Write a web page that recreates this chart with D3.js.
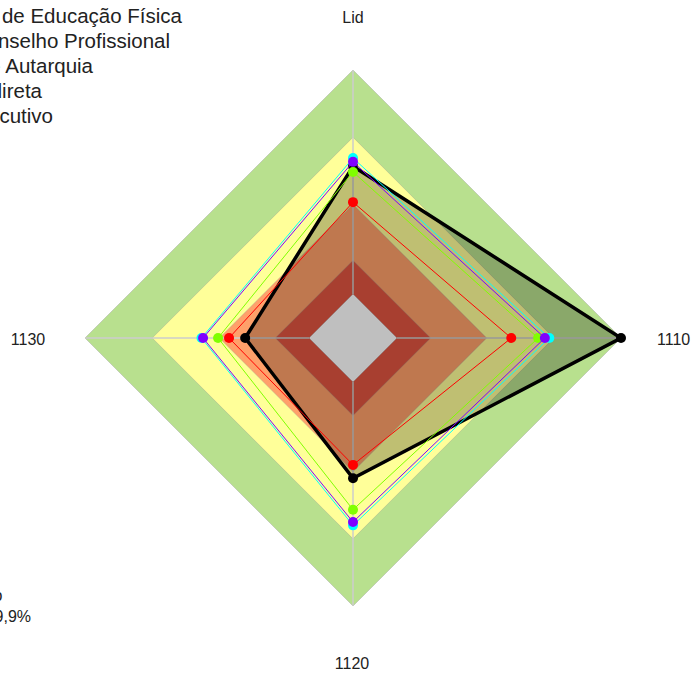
<!DOCTYPE html>
<html>
<head>
<meta charset="utf-8">
<script src="https://cdn.jsdelivr.net/npm/d3@7"></script>
<style>
  body { margin: 0; background: #fff; }
  text { font-family: "Liberation Sans", Arial, sans-serif; fill: #222; }
</style>
</head>
<body>
<script>
// axes of the radar, clockwise from the top
var axes = ["Lid", "1110", "1120", "1130"]

// band limits (percent) and colours, from the outside in
var bandLimits = [100, 70, 40, 15, 0]
var bandColors = ["#b8e08e", "#ffff99", "#ffa06a", "#e05540", "#ffffff"]

// series values (percent), per axis
var seriesNames = ["Conselho Regional de Educação Física", "Conselho Profissional", "Autarquia", "Administração Indireta", "Poder Executivo"]
var valBlack  = [57, 100, 43, 28.5]
var valRed    = [41, 51, 37, 35.7]
var valGreen  = [54.5, 63, 57, 40.6]
var valCyan   = [60.7, 68, 64, 48]
var valPurple = [59, 66, 62.5, 47.3]

// legend + note lines, they run off the left edge in the original
var legendLines = ["Conselho Regional de Educação Física", "Conselho Profissional", "Tipo - Autarquia", "Administração Indireta", "Poder Executivo"]
var legendEnds = [182, 170, 93, 42, 53]
var noteLines = ["Resultado do órgão", "iGG: 49,9%"]

var width = 696, height = 673
var cx = 353, cy = 338

var svg = d3.select("body").append("svg")
  .attr("width", width)
  .attr("height", height)

var r = d3.scaleLinear().domain([0, 100]).range([44, 268])

// four axes: top, right, bottom, left
function ang(i) { return -Math.PI / 2 + i * 2 * Math.PI / axes.length }
function pt(v, i) {
  return [cx + r(v) * Math.cos(ang(i)), cy + r(v) * Math.sin(ang(i))]
}
function diamond(v) {
  return axes.map(function (a, i) { return pt(v, i) })
}
var line = d3.line().curve(d3.curveLinearClosed)

// background bands
svg.append("g").selectAll("path")
  .data(bandLimits)
  .enter().append("path")
  .attr("d", function (d) { return line(diamond(d)) })
  .attr("fill", function (d, i) { return bandColors[i] })
  .attr("stroke", "rgba(150,150,150,0.35)")
  .attr("stroke-width", 1)

// axis lines
svg.append("g").selectAll("line")
  .data(axes)
  .enter().append("line")
  .attr("x1", function (d, i) { return pt(0, i)[0] })
  .attr("y1", function (d, i) { return pt(0, i)[1] })
  .attr("x2", function (d, i) { return pt(100, i)[0] })
  .attr("y2", function (d, i) { return pt(100, i)[1] })
  .attr("stroke", "#cccccc")
  .attr("stroke-width", 1.5)

// axis labels
var labelPos = [[353, 23, "middle"], [657, 345, "start"], [352, 669, "middle"], [28, 345, "middle"]]
svg.append("g").selectAll("text")
  .data(axes)
  .enter().append("text")
  .attr("x", function (d, i) { return labelPos[i][0] })
  .attr("y", function (d, i) { return labelPos[i][1] })
  .attr("text-anchor", function (d, i) { return labelPos[i][2] })
  .attr("font-size", 16)
  .text(function (d) { return d })

var series = [
  { name: seriesNames[0], values: valBlack, color: "#000000", width: 3.5, fill: "rgba(0,0,0,0.25)" },
  { name: seriesNames[1], values: valRed, color: "#ff0000", width: 1, fill: "none" },
  { name: seriesNames[2], values: valGreen, color: "#80ff00", width: 1, fill: "none" },
  { name: seriesNames[3], values: valCyan, color: "#00ffff", width: 1, fill: "none" },
  { name: seriesNames[4], values: valPurple, color: "#8000ff", width: 1, fill: "none" }
]

var sg = svg.append("g").selectAll("g")
  .data(series)
  .enter().append("g")

sg.append("path")
  .attr("d", function (s) { return line(s.values.map(pt)) })
  .attr("fill", function (s) { return s.fill })
  .attr("stroke", function (s) { return s.color })
  .attr("stroke-width", function (s) { return s.width })
  .attr("stroke-linejoin", "miter")

sg.each(function (s) {
  d3.select(this).selectAll("circle")
    .data(s.values)
    .enter().append("circle")
    .attr("cx", function (v, i) { return pt(v, i)[0] })
    .attr("cy", function (v, i) { return pt(v, i)[1] })
    .attr("r", 5)
    .attr("fill", s.color)
})

// legend text (partly outside the picture)
svg.append("g").selectAll("text")
  .data(legendLines)
  .enter().append("text")
  .attr("x", function (d, i) { return legendEnds[i] })
  .attr("y", function (d, i) { return 23 + i * 25 })
  .attr("text-anchor", "end")
  .attr("font-size", 20.5)
  .text(function (d) { return d })

svg.append("g").selectAll("text")
  .data(noteLines)
  .enter().append("text")
  .attr("x", function (d, i) { return i == 0 ? 2.5 : 31 })
  .attr("y", function (d, i) { return 601 + i * 21 })
  .attr("text-anchor", "end")
  .attr("font-size", 16)
  .text(function (d) { return d })
</script>
</body>
</html>
